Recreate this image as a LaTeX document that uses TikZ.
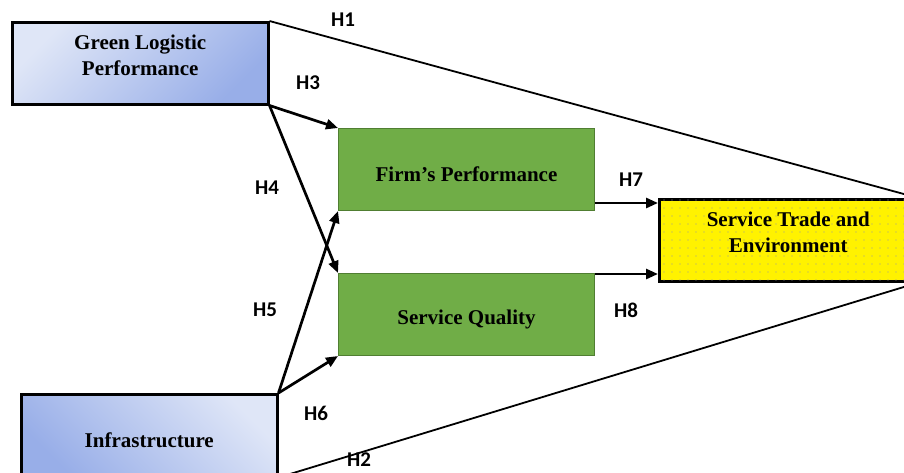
\documentclass[tikz,border=0pt]{standalone}
\usepackage{fontspec}
\setmainfont{Liberation Serif}
\newfontfamily\hfont{Carlito}
\usetikzlibrary{arrows.meta,calc,patterns.meta}

\definecolor{bluelight}{HTML}{DFE6F7}
\definecolor{bluedark}{HTML}{98AEE8}
\definecolor{firmgreen}{HTML}{70AD47}
\definecolor{firmline}{HTML}{507E32}

\begin{document}
\begin{tikzpicture}[x=1pt,y=-1pt,
    box/.style={draw,anchor=north west,minimum width=256pt,minimum height=82pt,
      inner sep=0pt,align=center,font=\fontsize{21}{26}\selectfont\bfseries},
    oneline/.style={text height=24pt},
    twoline/.style={text depth=16pt},
    bluebox/.style={box,line width=2.5pt,top color=bluelight,bottom color=bluedark},
    greenbox/.style={box,oneline,fill=firmgreen,draw=firmline,line width=1pt},
    hyp/.style={font=\hfont\fontsize{21}{21}\selectfont\bfseries,inner sep=1pt},
    arr/.style={-{Triangle[length=12pt,width=10pt]},line width=2.7pt},
    longarr/.style={-{Triangle[length=12pt,width=10pt]},line width=1.8pt}]
  \useasboundingbox (0,0) rectangle (904,472);
  \clip (0,0) rectangle (904,472);
  % boxes
  \node[bluebox,twoline,shading angle=45] (glp) at (11,21) {Green Logistic\\Performance};
  \node[bluebox,oneline,shading angle=-45] (infra) at (20,393) {Infrastructure};
  \node[greenbox] (firm) at (338,128) {Firm’s Performance};
  \node[greenbox] (sq) at (338,273) {Service Quality};
  \node[box,twoline,minimum width=258pt,line width=2.5pt,fill=yellow,
    postaction={pattern={Dots[distance=8pt,radius=0.6pt]},pattern color=black!40}]
    (ste) at (658,198) {Service Trade and\\Environment};
  % direct paths
  \draw[longarr] (glp.north east) -- (ste.north east);
  \draw[longarr] (infra.south east) -- (ste.south east);
  % mediated paths
  \draw[arr] (glp.south east) -- (firm.north west);
  \draw[arr] (glp.south east) -- (sq.north west);
  \draw[arr] (infra.north east) -- (firm.south west);
  \draw[arr] (infra.north east) -- (sq.south west);
  \coordinate (h7s) at ($(firm.south east)+(0,-8)$);
  \coordinate (h8s) at ($(sq.north east)+(0,1)$);
  \draw[arr] (h7s) -- (h7s -| ste.west);
  \draw[arr] (h8s) -- (h8s -| ste.west);
  % hypothesis labels
  \node[hyp] (h1) at (343,20) {H1};
  \node[hyp] (h2) at (359,460) {H2};
  \node[hyp] (h3) at (308,83) {H3};
  \node[hyp] (h4) at (267,188) {H4};
  \node[hyp] (h5) at (265,310) {H5};
  \node[hyp] (h6) at (316,413) {H6};
  \node[hyp] (h7) at (631,180) {H7};
  \node[hyp] (h8) at (626,310) {H8};
\end{tikzpicture}
\end{document}
